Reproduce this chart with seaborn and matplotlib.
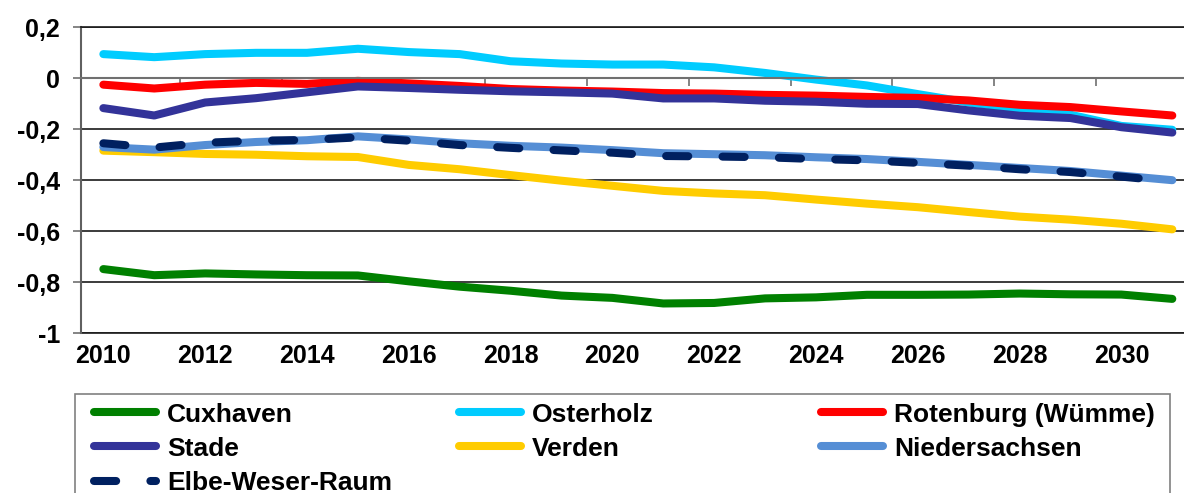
import numpy as np
import pandas as pd
import matplotlib
matplotlib.use("Agg")
import matplotlib.pyplot as plt
from matplotlib.lines import Line2D
from matplotlib.patches import Rectangle
import seaborn as sns

# Data
years = list(range(2010, 2032))
cuxhaven = [-0.749, -0.773, -0.766, -0.770, -0.773, -0.774, -0.797, -0.818, -0.834, -0.853, -0.862,
            -0.884, -0.882, -0.864, -0.860, -0.850, -0.850, -0.849, -0.845, -0.848, -0.849, -0.866]
osterholz = [0.095, 0.083, 0.095, 0.100, 0.100, 0.116, 0.103, 0.095, 0.067, 0.058, 0.054,
             0.054, 0.043, 0.021, -0.005, -0.028, -0.062, -0.095, -0.120, -0.143, -0.187, -0.202]
rotenburg = [-0.025, -0.040, -0.025, -0.018, -0.022, -0.010, -0.020, -0.030, -0.042, -0.048, -0.052,
             -0.058, -0.060, -0.065, -0.068, -0.073, -0.077, -0.087, -0.104, -0.113, -0.130, -0.146]
stade = [-0.117, -0.146, -0.095, -0.078, -0.055, -0.032, -0.038, -0.045, -0.051, -0.055, -0.060,
         -0.079, -0.079, -0.088, -0.092, -0.100, -0.101, -0.126, -0.147, -0.156, -0.192, -0.213]
verden = [-0.284, -0.290, -0.297, -0.300, -0.306, -0.309, -0.340, -0.357, -0.380, -0.402, -0.422,
          -0.442, -0.452, -0.459, -0.476, -0.492, -0.506, -0.525, -0.543, -0.555, -0.571, -0.593]
niedersachsen = [-0.270, -0.280, -0.262, -0.250, -0.243, -0.228, -0.240, -0.255, -0.265, -0.272, -0.282,
                 -0.294, -0.298, -0.302, -0.310, -0.317, -0.328, -0.340, -0.352, -0.364, -0.382, -0.400]
elbe_weser = [-0.255, -0.272, -0.253, -0.245, -0.242, -0.232, -0.245, -0.262, -0.273, -0.283, -0.292,
              -0.305, -0.307, -0.310, -0.317, -0.322, -0.332, -0.343, -0.357, -0.368, -0.386, -0.405]

regions = ["Cuxhaven", "Osterholz", "Rotenburg (Wümme)", "Stade", "Verden",
           "Niedersachsen", "Elbe-Weser-Raum"]
colors = ["#008000", "#00CCFF", "#FF0000", "#333399", "#FFCC00", "#558ED5", "#002060"]
y_ticks = [0.2, 0, -0.2, -0.4, -0.6, -0.8, -1]
y_labels = ["0,2", "0", "-0,2", "-0,4", "-0,6", "-0,8", "-1"]
x_labels = [str(y) for y in years[::2]]

series = [cuxhaven, osterholz, rotenburg, stade, verden, niedersachsen, elbe_weser]
df = pd.concat([pd.DataFrame({"Jahr": years, "Wert": vals, "Region": name})
                for name, vals in zip(regions, series)], ignore_index=True)

sns.set_style("white")
plt.rcParams["font.family"] = ["Liberation Sans", "DejaVu Sans"]
plt.rcParams["font.weight"] = "bold"
plt.rcParams["text.color"] = "black"
plt.rcParams["xtick.color"] = "black"
plt.rcParams["ytick.color"] = "black"

LW = 5.8
DASH = (2.75, 4.25)
palette = dict(zip(regions, colors))
dash_map = {r: "" for r in regions}
dash_map["Elbe-Weser-Raum"] = DASH

fig = plt.figure(figsize=(11.84, 4.93), dpi=100)
ax = fig.add_axes([0.0682, 0.3245, 0.9318, 0.620])

sns.lineplot(data=df, x="Jahr", y="Wert", hue="Region", style="Region",
             hue_order=regions, style_order=regions, palette=palette,
             dashes=dash_map, lw=LW, solid_capstyle="round", dash_capstyle="round",
             legend=False, ax=ax)

ax.set_xlim(2009.556, 2031.23)
ax.set_ylim(-1, 0.2)
ax.set_xlabel("")
ax.set_ylabel("")

# y axis
ax.set_yticks(y_ticks)
ax.set_yticklabels(y_labels, fontsize=18, fontweight="bold", color="black")
ax.yaxis.grid(True, color="#1a1a1a", lw=1.2)
ax.set_axisbelow(True)
ax.tick_params(axis="y", direction="out", length=6, width=1.2, color="#707070", pad=9, left=True)
ax.spines["left"].set_color("#606060")
ax.spines["left"].set_linewidth(1.5)
ax.spines["right"].set_visible(False)
ax.spines["top"].set_color("#1a1a1a")
ax.spines["top"].set_linewidth(1.2)

# x axis line at zero with tick marks between category pairs
ax.spines["bottom"].set_position(("data", 0))
ax.spines["bottom"].set_color("#707070")
ax.spines["bottom"].set_linewidth(1.5)
ax.set_xticks(np.arange(2011.5, 2031, 2))
ax.tick_params(axis="x", direction="out", length=6, width=1.2, color="#707070",
               bottom=True, labelbottom=False)

# year labels at the bottom of the plot
sec = ax.secondary_xaxis("bottom")
sec.set_xticks(years[::2])
sec.set_xticklabels(x_labels, fontsize=18, fontweight="bold", color="black")
sec.tick_params(length=0, pad=8)
sec.spines["bottom"].set_color("#1a1a1a")
sec.spines["bottom"].set_linewidth(1.2)

# legend: frame + three columns
fig.patches.append(Rectangle((0.0633, -0.05), 0.925, 0.2508, transform=fig.transFigure,
                             fill=False, edgecolor="#808080", lw=1.2))


def handle(i):
    name = regions[i]
    return Line2D([], [], color=colors[i], lw=LW, solid_capstyle="round",
                  dash_capstyle="round", dashes=DASH if name == "Elbe-Weser-Raum" else (None, None))


columns = [[0, 3, 6], [1, 4], [2, 5]]
col_x = [0.0794, 0.3877, 0.6934]
for idx, cx in zip(columns, col_x):
    fig.legend([handle(i) for i in idx], [regions[i] for i in idx],
               loc="upper left", bbox_to_anchor=(cx, 0.1832), frameon=False,
               borderaxespad=0, borderpad=0, handlelength=2.35, handletextpad=0.42,
               labelspacing=0.38, prop={"size": 19, "weight": "bold"},
               labelcolor="black")

fig.savefig("out.png", dpi=100)
